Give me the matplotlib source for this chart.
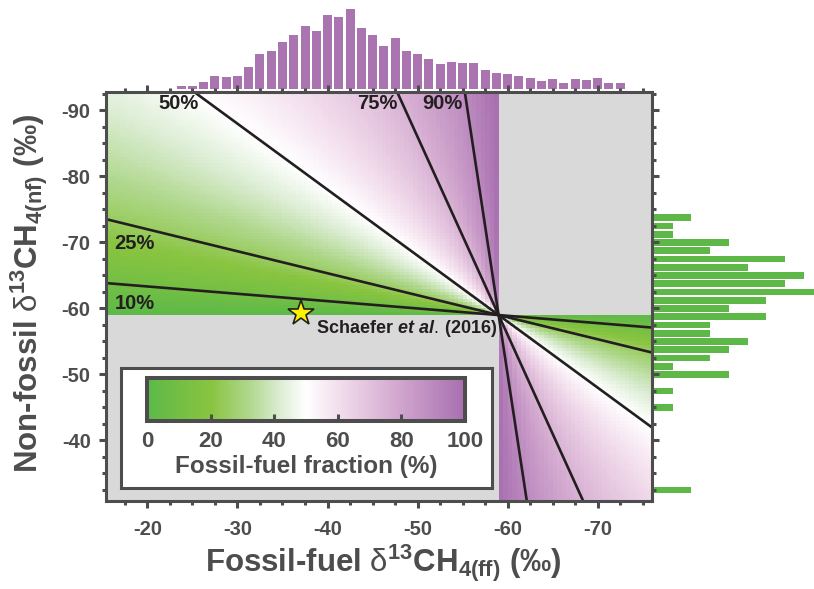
import numpy as np
import matplotlib
matplotlib.use("Agg")
import matplotlib.pyplot as plt
from matplotlib.colors import LinearSegmentedColormap

plt.rcParams['font.family'] = ['Liberation Sans', 'DejaVu Sans']
plt.rcParams['font.weight'] = 'bold'
plt.rcParams['axes.labelweight'] = 'bold'
plt.rcParams['axes.unicode_minus'] = False
plt.rcParams['mathtext.fontset'] = 'custom'
plt.rcParams['mathtext.rm'] = 'Liberation Sans:weight=normal:style=normal'
plt.rcParams['mathtext.bf'] = 'Liberation Sans:weight=bold'
plt.rcParams['mathtext.it'] = 'Liberation Sans:weight=bold:style=italic'

# atmospheric source mix the isolines converge on (permil)
d13c_source = -59.0

# fossil-fuel isotope signatures, 1.25 permil bins
ff_bins = np.arange(-21.25, -76.0, -1.25)
ff_freq = [0.15, 0.0, 1.0, 1.0, 2.0, 4.0, 3.7, 4.0, 6.7, 10.6, 11.5, 14.2,
           16.3, 19.0, 17.5, 22.3, 21.7, 24.1, 18.4, 16.3, 13.0, 15.4, 11.5,
           10.6, 9.1, 7.6, 8.2, 7.9, 7.9, 5.8, 4.9, 4.6, 4.0, 3.4, 2.5, 3.1,
           1.9, 3.1, 2.8, 3.4, 1.9, 1.9, 0.15, 0.15]

# non-fossil (biogenic/pyrogenic) signatures
nf_bins = [-73.75, -72.5, -71.25, -70.0, -68.75, -67.5, -66.25, -65.0,
           -63.75, -62.5, -61.25, -60.0, -58.75, -57.5, -56.25, -55.0,
           -53.75, -52.5, -51.25, -50.0, -47.5, -45.0, -32.5]
nf_counts = [2, 1, 1, 4, 3, 7, 5, 8, 7, 9, 6, 4, 6, 3, 3, 5, 4, 3, 1, 4, 1, 1, 2]

iso_fracs = [0.10, 0.25, 0.50, 0.75, 0.90]
iso_labels = ['10%', '25%', '50%', '75%', '90%']
iso_label_xy = [(-18.6, -60.7), (-18.6, -69.9), (-23.5, -91.0),
                (-45.5, -91.0), (-52.7, -91.0)]

schaefer_ff, schaefer_nf = -37.0, -59.3

xlim = (-15.4, -76.0)
ylim = (-30.9, -92.8)

dark = '#4D4D4D'
ink = '#231F20'
purple = '#A974B0'
green = '#5DB847'

cmap = LinearSegmentedColormap.from_list('ffrac', [
    (0.00, (93/255, 185/255, 72/255)),
    (0.20, (137/255, 196/255, 64/255)),
    (0.32, (175/255, 215/255, 140/255)),
    (0.42, (220/255, 237/255, 212/255)),
    (0.50, (1, 1, 1)),
    (0.60, (243/255, 223/255, 237/255)),
    (0.78, (212/255, 170/255, 208/255)),
    (1.00, (168/255, 111/255, 176/255)),
])

fig = plt.figure(figsize=(8.14, 5.89), dpi=100)
W, H = 814.0, 589.0


def px_rect(x0, y0, x1, y1):
    return [x0 / W, 1 - y1 / H, (x1 - x0) / W, (y1 - y0) / H]


# marginal histograms first so the main axes ticks sit on top
ax_top = fig.add_axes(px_rect(106, 8.5, 651.7, 89))
ax_top.bar(ff_bins, ff_freq, width=1.0, color=purple)
ax_top.set_xlim(xlim)
ax_top.set_ylim(0, 24.25)
ax_top.axis('off')

ax_right = fig.add_axes(px_rect(654, 92, 814, 500.5))
ax_right.barh(nf_bins, nf_counts, height=1.0, color=green)
ax_right.set_xlim(0, 8.55)
ax_right.set_ylim(ylim)
ax_right.axis('off')

ax = fig.add_axes(px_rect(106, 92, 651.7, 500.5))
ax.set_facecolor('#D9D9D9')

# fossil fraction needed to reach the source mix
xe = np.arange(-15.5, -76.01, -0.5)
ye = np.arange(-30.5, -93.01, -0.5)
xc = 0.5 * (xe[1:] + xe[:-1])
yc = 0.5 * (ye[1:] + ye[:-1])
X, Y = np.meshgrid(xc, yc)
with np.errstate(divide='ignore', invalid='ignore'):
    frac = (d13c_source - Y) / (X - Y)
frac = np.ma.masked_invalid(frac)
frac = np.ma.masked_outside(frac, 0, 1)
mesh = ax.pcolormesh(xe, ye, frac * 100, cmap=cmap, vmin=0, vmax=100,
                     shading='flat')

xl = np.array(xlim)
for f, lab, (lx, ly) in zip(iso_fracs, iso_labels, iso_label_xy):
    ax.plot(xl, (d13c_source - f * xl) / (1 - f), color=ink, lw=1.9)
    ax.text(lx, ly, lab, fontsize=14.5, color=ink, ha='center', va='center')

ax.plot(schaefer_ff, schaefer_nf, marker='*', ms=19, mfc='#FFF200',
        mec=ink, mew=1.2, clip_on=False, zorder=5)
ax.text(-58.8, -57.0, r'Schaefer $\mathit{et\ al.}\,$(2016)', fontsize=13,
        color=ink, ha='right', va='center')

ax.set_xlim(xlim)
ax.set_ylim(ylim)
ax.set_xticks([-20, -30, -40, -50, -60, -70])
ax.set_yticks([-90, -80, -70, -60, -50, -40])
ax.set_xticks(np.arange(-17.5, -76, -2.5), minor=True)
ax.set_yticks(np.arange(-32.5, -93, -2.5), minor=True)
ax.tick_params(which='both', direction='out', top=True, right=True,
               width=2.2, color=dark, labelcolor=dark, labelsize=14.5)
ax.tick_params(which='major', length=5, pad=6)
ax.tick_params(which='minor', length=3)
ax.tick_params(axis='x', pad=9)
for sp in ax.spines.values():
    sp.set_linewidth(2.2)
    sp.set_color(dark)

ax.set_xlabel(r'Fossil-fuel $\mathrm{\delta}^{\mathbf{13}}$CH$_{\mathbf{4(ff)}}$ (‰)',
              fontsize=22.5, color=dark)
ax.xaxis.set_label_coords(0.508, -0.104)
ax.set_ylabel(r'Non-fossil $\mathrm{\delta}^{\mathbf{13}}$CH$_{\mathbf{4(nf)}}$ (‰)',
              fontsize=22.5, color=dark)
ax.yaxis.set_label_coords(-0.103, 0.508)

# colour key
box = fig.add_axes(px_rect(121, 368, 492, 488))
box.set_facecolor('white')
box.set_xticks([])
box.set_yticks([])
for sp in box.spines.values():
    sp.set_linewidth(2.2)
    sp.set_color(dark)

cax = fig.add_axes(px_rect(147, 378, 465, 421))
cb = fig.colorbar(mesh, cax=cax, orientation='horizontal')
cb.set_ticks([0, 20, 40, 60, 80, 100])
cb.outline.set_linewidth(2.9)
cb.outline.set_edgecolor(dark)
cax.tick_params(direction='in', length=5, width=2.2, color=dark,
                labelcolor=dark, labelsize=16, pad=7)
cax.set_xlabel('Fossil-fuel fraction (%)', fontsize=17.5, color=dark,
               labelpad=2)

fig.savefig('out.png', dpi=100)
